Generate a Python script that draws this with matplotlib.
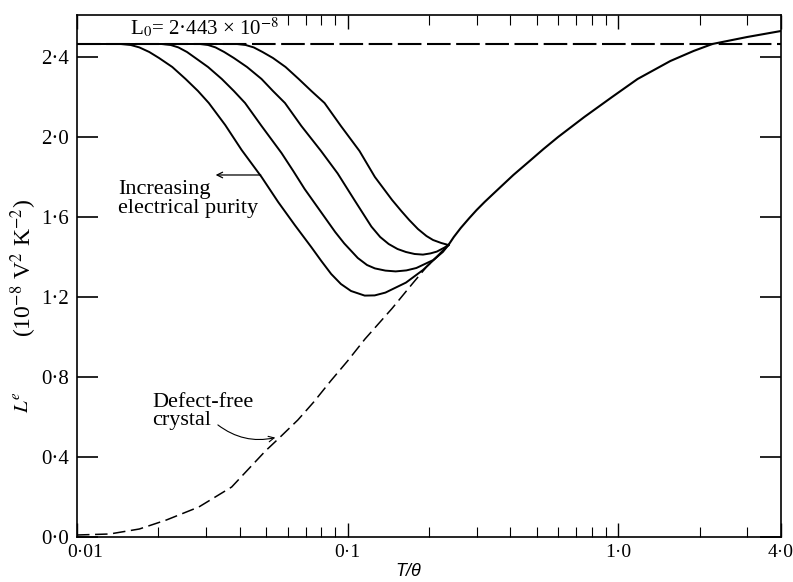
import numpy as np
import matplotlib
matplotlib.use("Agg")
import matplotlib.pyplot as plt
from matplotlib.ticker import FixedLocator, FixedFormatter, LogLocator, NullFormatter
from matplotlib.transforms import ScaledTranslation

plt.rcParams['font.family'] = ['Liberation Serif', 'DejaVu Serif']
plt.rcParams['mathtext.fontset'] = 'stix'
plt.rcParams['lines.scale_dashes'] = False

# Lorenz number plateau
L0 = 2.465

# curves of increasing electrical purity (T/theta, L)
t_pur1 = [0.010, 0.0145, 0.0158, 0.0170, 0.0185, 0.0201, 0.0225, 0.0252, 0.0280, 0.0307, 0.0353,
          0.0406, 0.0481, 0.0554, 0.0638, 0.0734, 0.080, 0.087, 0.0945, 0.103, 0.1157, 0.126,
          0.138, 0.1644, 0.190, 0.2138, 0.236]
l_pur1 = [2.465, 2.465, 2.46, 2.448, 2.425, 2.395, 2.35, 2.29, 2.23, 2.17, 2.06,
          1.935, 1.80, 1.675, 1.56, 1.45, 1.38, 1.315, 1.265, 1.23, 1.207, 1.208,
          1.222, 1.272, 1.335, 1.40, 1.46]

t_pur2 = [0.010, 0.0205, 0.0222, 0.0237, 0.0255, 0.0274, 0.0305, 0.0343, 0.0380, 0.0418, 0.0481,
          0.0570, 0.0630, 0.0694, 0.0822, 0.090, 0.0972, 0.1091, 0.118, 0.1262, 0.138, 0.1506,
          0.165, 0.1796, 0.2075, 0.225, 0.236]
l_pur2 = [2.465, 2.465, 2.46, 2.448, 2.425, 2.395, 2.35, 2.29, 2.23, 2.17, 2.055,
          1.92, 1.83, 1.74, 1.60, 1.525, 1.468, 1.395, 1.36, 1.343, 1.332, 1.328,
          1.333, 1.345, 1.385, 1.425, 1.46]

t_pur3 = [0.010, 0.0285, 0.0305, 0.0325, 0.0350, 0.0380, 0.0425, 0.0481, 0.0530, 0.0587, 0.0675,
          0.0798, 0.0919, 0.1060, 0.1225, 0.132, 0.1419, 0.153, 0.1644, 0.177, 0.190, 0.2025,
          0.2138, 0.228, 0.236]
l_pur3 = [2.465, 2.465, 2.46, 2.448, 2.425, 2.395, 2.35, 2.29, 2.23, 2.17, 2.055,
          1.93, 1.818, 1.685, 1.552, 1.50, 1.465, 1.44, 1.425, 1.415, 1.412, 1.418,
          1.427, 1.447, 1.46]

t_pur4 = [0.010, 0.0390, 0.0420, 0.0450, 0.0485, 0.0530, 0.0590, 0.0660, 0.0735, 0.0822, 0.0945,
          0.1107, 0.1262, 0.1461, 0.158, 0.169, 0.182, 0.1957, 0.207, 0.222, 0.236]
l_pur4 = [2.465, 2.465, 2.46, 2.448, 2.425, 2.395, 2.35, 2.29, 2.23, 2.17, 2.055,
          1.93, 1.80, 1.685, 1.63, 1.585, 1.54, 1.505, 1.485, 1.47, 1.46]

# common high-temperature branch
t_high = [0.236, 0.247, 0.262, 0.282, 0.30, 0.321, 0.345, 0.371, 0.41, 0.471, 0.53, 0.60,
          0.75, 0.95, 1.18, 1.56, 1.9, 2.23, 3.0, 4.0]
l_high = [1.46, 1.50, 1.545, 1.595, 1.635, 1.675, 1.715, 1.755, 1.81, 1.88, 1.94, 2.00,
          2.10, 2.20, 2.29, 2.38, 2.43, 2.465, 2.50, 2.53]

# defect-free crystal
t_free = [0.010, 0.0132, 0.017, 0.0214, 0.0282, 0.0373, 0.0497, 0.0554, 0.0655, 0.075, 0.0866,
          0.100, 0.116, 0.1461, 0.174, 0.1957, 0.236]
l_free = [0.01, 0.015, 0.04, 0.085, 0.15, 0.25, 0.43, 0.49, 0.585, 0.675, 0.78,
          0.88, 0.99, 1.143, 1.268, 1.35, 1.46]

x_ticks = [0.01, 0.1, 1.0, 4.0]
x_labels = ['0·01', '0·1', '1·0', '4·0']
y_ticks = [0.0, 0.4, 0.8, 1.2, 1.6, 2.0, 2.4]
y_labels = ['0·0', '0·4', '0·8', '1·2', '1·6', '2·0', '2·4']

fig = plt.figure(figsize=(7.93, 5.82), dpi=100)
ax = fig.add_axes([77 / 793, 45 / 582, 704 / 793, 522 / 582])

ax.plot([0.01, 4.0], [L0, L0], color='black', lw=1.5, dashes=(17, 4))
for t, l in [(t_pur1, l_pur1), (t_pur2, l_pur2), (t_pur3, l_pur3), (t_pur4, l_pur4)]:
    ax.plot(t, l, color='black', lw=1.4)
ax.plot(t_high, l_high, color='black', lw=1.5)
ax.plot(t_free, l_free, color='black', lw=1.1, dashes=(9, 4))

ax.set_xscale('log')
ax.set_xlim(0.01, 4.0)
ax.set_ylim(0, 2.61)

ax.xaxis.set_major_locator(FixedLocator(x_ticks))
ax.xaxis.set_major_formatter(FixedFormatter(x_labels))
ax.xaxis.set_minor_locator(LogLocator(base=10, subs=np.arange(2, 10)))
ax.xaxis.set_minor_formatter(NullFormatter())
ax.yaxis.set_major_locator(FixedLocator(y_ticks))
ax.yaxis.set_major_formatter(FixedFormatter(y_labels))

ax.tick_params(axis='y', which='major', direction='in', length=15, width=1.2,
               right=True, labelsize=15, pad=6)
ax.tick_params(axis='x', which='major', direction='in', length=10, width=1.0,
               top=True, labelsize=14, pad=5)
ax.tick_params(axis='x', which='minor', direction='in', length=7, width=0.8, top=True)
for s in ax.spines.values():
    s.set_linewidth(1.2)
    s.set_zorder(6)

# first x label sits a little to the right of the corner, as in the original
first = ax.get_xticklabels()[0]
first.set_ha('left')
first.set_transform(first.get_transform() + ScaledTranslation(-7 / 72, 0, fig.dpi_scale_trans))

ax.text(0.075, 0.962, 'L$_0$= 2·443 × 10$^{-8}$', transform=ax.transAxes,
        fontsize=15, va='baseline', ha='left', zorder=5,
        bbox=dict(facecolor='white', edgecolor='none', pad=1))
ax.text(0.058, 0.683, 'Increasing\nelectrical purity', transform=ax.transAxes,
        fontsize=16, va='top', ha='left', linespacing=1.0)
ax.annotate('', xy=(0.193, 0.6935), xytext=(0.265, 0.6935), xycoords='axes fraction',
            arrowprops=dict(arrowstyle='->', color='black', lw=0.9))
ax.text(0.1065, 0.276, 'Defect-free\ncrystal', transform=ax.transAxes,
        fontsize=16, va='top', ha='left', linespacing=0.95)
ax.annotate('', xy=(0.2855, 0.1916), xytext=(0.197, 0.218), xycoords='axes fraction',
            arrowprops=dict(arrowstyle='->', color='black', lw=0.8,
                            connectionstyle='arc3,rad=0.25'))

fig.text(24 / 793, 1 - 402 / 582, '$L^{e}$', rotation=90, fontsize=15,
         ha='center', va='center')
fig.text(24 / 793, 1 - 268 / 582, '(10$^{-8}$ V$^{2}$ K$^{-2}$)', rotation=90, fontsize=17,
         ha='center', va='center')
fig.text(408 / 793, 1 - 571 / 582, 'T/θ', fontsize=13, style='italic',
         family=['Liberation Sans', 'DejaVu Sans'], ha='center', va='center')

fig.savefig('out.png', dpi=100)
